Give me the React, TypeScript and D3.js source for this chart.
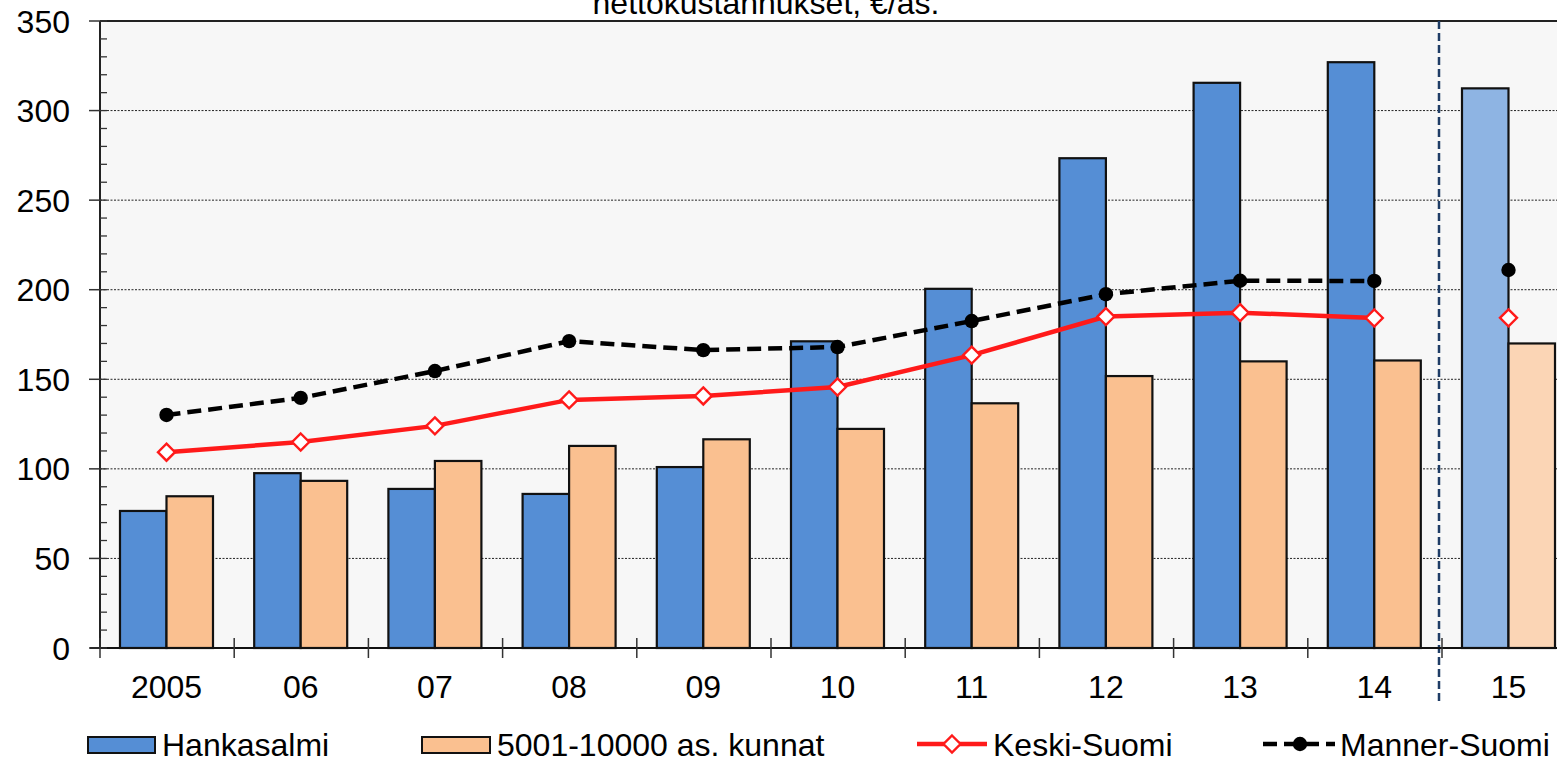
import React from 'react';
import * as d3 from 'd3';

const categories = ['2005', '06', '07', '08', '09', '10', '11', '12', '13', '14', '15'];
const hankasalmi = [76.5, 97.6, 88.8, 86.0, 101.0, 171.2, 200.5, 273.4, 315.5, 327.0, 312.4];
const kunnat = [84.7, 93.3, 104.4, 112.8, 116.5, 122.3, 136.6, 151.8, 160.0, 160.5, 170.0];
const keskiSuomi = [109.3, 115.0, 124.0, 138.5, 140.7, 145.7, 163.5, 185.0, 187.2, 184.2, 184.3];
const mannerSuomi = [130.1, 139.6, 154.6, 171.3, 166.3, 168.0, 182.5, 197.5, 205.0, 204.9, 211.0];
const yTicks = [0, 50, 100, 150, 200, 250, 300, 350];
const minorTicks = d3.range(0, 351, 10);
const title = 'nettokustannukset, €/as.';
const seriesNames = ['Hankasalmi', '5001-10000 as. kunnat', 'Keski-Suomi', 'Manner-Suomi'];
const estimateIndex = 10; // last category drawn as estimate

const W = 1557;
const H = 760;
const left = 100;
const top = 21;
const bottom = 648;
const bandW = 134.2;
const font = '"Liberation Sans", Arial, sans-serif';

export default function App() {
  const x = d3
    .scaleBand<string>()
    .domain(categories)
    .range([left, left + bandW * categories.length])
    .paddingInner(0)
    .paddingOuter(0);
  const y = d3.scaleLinear().domain([0, 350]).range([bottom, top]);
  const bw = x.bandwidth();
  const barW = bw * 0.3465;
  const gapL = bw * 0.149;
  const cx = (i: number) => (x(categories[i]) as number) + gapL + barW;

  const lineGen = d3
    .line<number>()
    .defined((_d, i) => i < estimateIndex)
    .x((_d, i) => cx(i))
    .y((d) => y(d));

  const blue = '#558ED5';
  const blueL = '#8EB4E3';
  const orange = '#FAC090';
  const orangeL = '#FBD5B5';
  const plotRight = left + bandW * categories.length;
  const sepX = (x(categories[estimateIndex]) as number) - 3;

  const diamond = (px: number, py: number, r: number) =>
    `M${px},${py - r}L${px + r},${py}L${px},${py + r}L${px - r},${py}Z`;

  return (
    <svg
      width={W}
      height={H}
      style={{ position: 'absolute', left: 0, top: 0, display: 'block', background: '#fff' }}
      fontFamily={font}
    >
      {/* plot background */}
      <rect x={left} y={top} width={plotRight - left} height={bottom - top} fill="#F7F7F7" />
      {/* gridlines */}
      {yTicks
        .filter((t) => t > 0 && t < 350)
        .map((t) => (
          <line
            key={'g' + t}
            x1={left}
            x2={plotRight}
            y1={y(t)}
            y2={y(t)}
            stroke="#222"
            strokeWidth={1}
            strokeDasharray="2,1.5"
          />
        ))}
      {/* top border */}
      <line x1={left} x2={W} y1={top} y2={top} stroke="#222" strokeWidth={2} />
      {/* bars */}
      {categories.map((c, i) => {
        const x0 = (x(c) as number) + gapL;
        const est = i === estimateIndex;
        return (
          <g key={'b' + c}>
            <rect
              x={x0}
              y={y(hankasalmi[i])}
              width={barW}
              height={bottom - y(hankasalmi[i])}
              fill={est ? blueL : blue}
              stroke="#111"
              strokeWidth={2.2}
            />
            <rect
              x={x0 + barW}
              y={y(kunnat[i])}
              width={barW}
              height={bottom - y(kunnat[i])}
              fill={est ? orangeL : orange}
              stroke="#111"
              strokeWidth={2.2}
            />
          </g>
        );
      })}
      {/* separator */}
      <line
        x1={sepX}
        x2={sepX}
        y1={top}
        y2={703}
        stroke="#1F3D66"
        strokeWidth={2.5}
        strokeDasharray="8,4"
      />
      {/* axes */}
      <line x1={left} x2={left} y1={top} y2={bottom} stroke="#222" strokeWidth={2} />
      <line x1={left - 10} x2={W} y1={bottom} y2={bottom} stroke="#111" strokeWidth={2} />
      {minorTicks.map((t) => (
        <line key={'m' + t} x1={left} x2={left + 7} y1={y(t)} y2={y(t)} stroke="#333" strokeWidth={1.3} />
      ))}
      {yTicks.map((t) => (
        <g key={'t' + t}>
          <line x1={left - 11} x2={left} y1={y(t)} y2={y(t)} stroke="#333" strokeWidth={1.5} />
          <text x={70} y={y(t) + 11.5} fontSize={32} textAnchor="end" fill="#000">
            {t}
          </text>
        </g>
      ))}
      {categories.map((c) => (
        <line
          key={'xt' + c}
          x1={x(c) as number}
          x2={x(c) as number}
          y1={bottom - 10}
          y2={bottom + 10}
          stroke="#333"
          strokeWidth={1.5}
        />
      ))}
      {categories.map((c, i) => (
        <text key={'xl' + c} x={cx(i)} y={698} fontSize={32} textAnchor="middle" fill="#000">
          {c}
        </text>
      ))}
      {/* lines */}
      <path d={lineGen(keskiSuomi) || ''} fill="none" stroke="#FF1A1A" strokeWidth={4.5} />
      <path
        d={lineGen(mannerSuomi) || ''}
        fill="none"
        stroke="#000"
        strokeWidth={4.5}
        strokeDasharray="14,7"
      />
      {keskiSuomi.map((v, i) => (
        <path key={'k' + i} d={diamond(cx(i), y(v), 8.5)} fill="#fff" stroke="#FF1A1A" strokeWidth={2.4} />
      ))}
      {mannerSuomi.map((v, i) => (
        <circle key={'ms' + i} cx={cx(i)} cy={y(v)} r={7.2} fill="#000" />
      ))}
      {/* title */}
      <text x={766} y={14} fontSize={32} textAnchor="middle" fill="#000">
        {title}
      </text>
      {/* legend */}
      <rect x={88} y={737} width={67} height={16} fill={blue} stroke="#111" strokeWidth={2} />
      <text x={162} y={756} fontSize={32} fill="#000">
        {seriesNames[0]}
      </text>
      <rect x={422} y={737} width={68} height={16} fill={orange} stroke="#111" strokeWidth={2} />
      <text x={497} y={756} fontSize={32} fill="#000">
        {seriesNames[1]}
      </text>
      <line x1={917} x2={987} y1={744} y2={744} stroke="#FF1A1A" strokeWidth={4.5} />
      <path d={diamond(952, 744, 8.5)} fill="#fff" stroke="#FF1A1A" strokeWidth={2.4} />
      <text x={993} y={756} fontSize={32} fill="#000">
        {seriesNames[2]}
      </text>
      <line x1={1263} x2={1335} y1={744} y2={744} stroke="#000" strokeWidth={4.5} strokeDasharray="14,7" />
      <circle cx={1300} cy={744} r={7.2} fill="#000" />
      <text x={1340} y={756} fontSize={32} fill="#000">
        {seriesNames[3]}
      </text>
    </svg>
  );
}
